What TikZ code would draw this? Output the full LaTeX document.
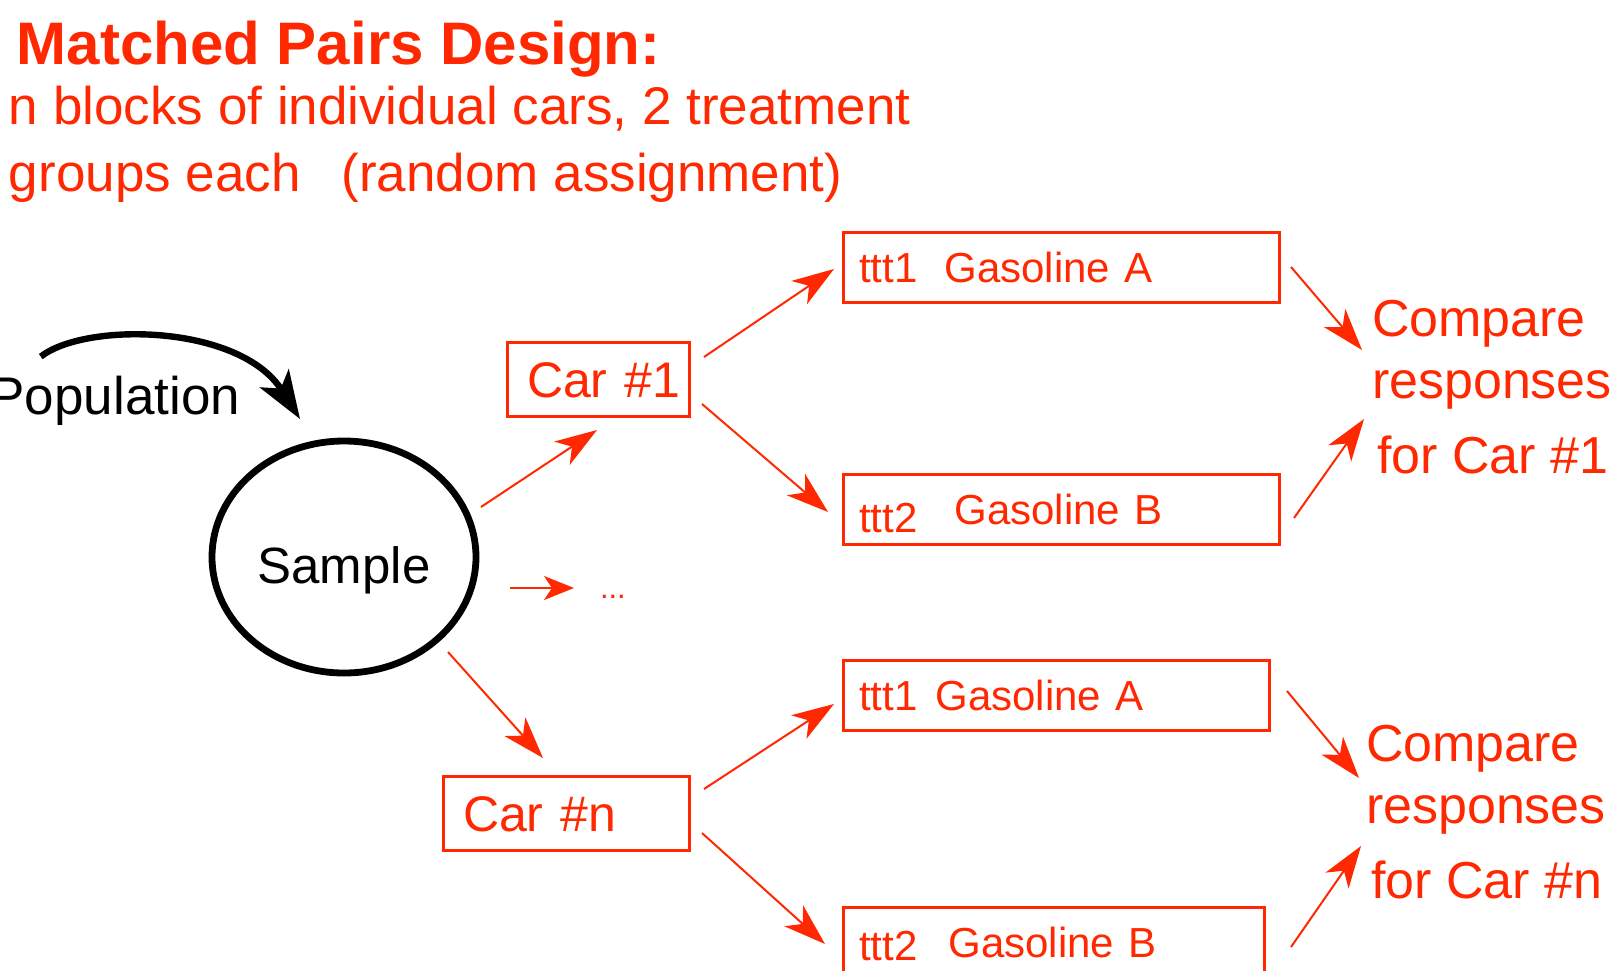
\documentclass[tikz,border=0pt]{standalone}
\usepackage{fontspec}
\setmainfont{Liberation Sans}
\usetikzlibrary{arrows.meta,calc,shapes.geometric}
\definecolor{accent}{RGB}{255,40,0}

\begin{document}
\begin{tikzpicture}[x=0.5pt,y=-0.5pt,
  every node/.style={inner sep=0pt,outer sep=0pt},
  redtxt/.style={text=accent},
  carbox/.style={draw=accent,line width=1.5pt,text=accent,anchor=north west,
    font=\fontsize{25pt}{30pt}\selectfont,inner xsep=10pt,inner ysep=0pt,
    text height=18pt,text depth=0pt,minimum height=37pt,align=left},
  gasbox/.style={draw=accent,line width=1.5pt,text=accent,anchor=north west,
    font=\fontsize{21pt}{25pt}\selectfont,inner xsep=8pt,inner ysep=0pt,
    text height=15pt,text depth=0pt,minimum height=35pt,align=left},
  cmptxt/.style={text=accent,font=\fontsize{26pt}{31pt}\selectfont,align=left,anchor=base west},
  redarrow/.style={draw=accent,line width=1pt,-{Stealth[length=21pt,width=14pt,inset=6pt]}},
  blackarrow/.style={draw=black,line width=3.2pt,-{Stealth[length=24pt,width=17pt,inset=6pt]}},
]
% page area
\path[fill=white,use as bounding box] (0,0) rectangle (1623,970);

% heading (multi-line nodes are placed by the baseline of their last line)
\node[redtxt,font=\fontsize{30pt}{36pt}\selectfont\bfseries,anchor=base west] (title) at (17,64) {Matched Pairs Design:};
\node[redtxt,font=\fontsize{26.5pt}{33.5pt}\selectfont,align=left,anchor=base west] (sub) at (9,191)
  {n blocks of individual cars, 2 treatment\\groups each\hspace{20.5pt}(random assignment)};

% population and sample
\node[font=\fontsize{26.5pt}{30pt}\selectfont,anchor=base east] (pop) at (240,414) {Population};
\node[ellipse,draw,line width=3.4pt,minimum width=132pt,minimum height=116pt,
  font=\fontsize{25.5pt}{30pt}\selectfont,text height=26pt,text depth=0pt] (sample) at (344,557) {Sample};
\node[redtxt,font=\fontsize{15.5pt}{18pt}\selectfont,anchor=base west] (dots) at (600,598) {...};

% blocks
\node[carbox,text width=71pt] (car1) at (507,342) {\mbox{Car \#1}};
\node[carbox,text width=103pt] (carn) at (443,776) {\mbox{Car \#n}};

% treatments
\node[gasbox,text width=202pt] (a1) at (843,232) {ttt1\hspace{13.5pt}Gasoline A};
\node[gasbox,text width=202pt] (b1) at (843,474) {\raisebox{-4pt}{ttt2}\hspace{18.5pt}Gasoline B};
\node[gasbox,text width=197pt] (an) at (843,660) {ttt1\hspace{9pt}Gasoline A};
\node[gasbox,text width=194.5pt] (bn) at (843,907) {\raisebox{-1.5pt}{ttt2}\hspace{15.5pt}Gasoline B};

% comparisons
\node[cmptxt] (cmp1) at (1372,473) {Compare\\responses\\[6.5pt]\hspace*{2.5pt}for Car \#1};
\node[cmptxt] (cmpn) at (1366,898) {Compare\\responses\\[6.5pt]\hspace*{2.5pt}for Car \#n};

% sampling
\draw[blackarrow] ($(pop.north)+(-74,-19)$) .. controls +(45,-35) and +(-60,-95) .. ($(sample.north)+(-44,-22)$);

% assignment to blocks
\draw[redarrow] ($(sample.east)+(5,-50)$) -- ($(car1.south west)+(90,14)$);
\draw[redarrow,-{Stealth[length=15pt,width=12pt,inset=4pt]}] ($(sample.east)+(34,31)$) -- ($(dots.base west)+(-26,-10)$);
\draw[redarrow] ($(sample.south)+(104,-21)$) -- ($(carn.north west)+(100,-18)$);

% treatments within blocks
\draw[redarrow] ($(car1.north east)+(15,15)$) -- ($(a1.north west)+(-9,37)$);
\draw[redarrow] ($(car1.south east)+(13,-12)$) -- ($(b1.north west)+(-15,38)$);
\draw[redarrow] ($(carn.north east)+(15,13)$) -- ($(an.north west)+(-9,44)$);
\draw[redarrow] ($(carn.south east)+(13,-17)$) -- ($(bn.north west)+(-18,37)$);

% responses
\draw[redarrow] ($(a1.north east)+(12,35)$) -- ($(cmp1.base west)+(-10,-123)$);
\draw[redarrow] ($(b1.north east)+(15,44)$) -- ($(cmp1.base west)+(-8,-54)$);
\draw[redarrow] ($(an.north east)+(18,31)$) -- ($(cmpn.base west)+(-7,-120)$);
\draw[redarrow] ($(bn.north east)+(27,40)$) -- ($(cmpn.base west)+(-5,-52)$);
\end{tikzpicture}
\end{document}
